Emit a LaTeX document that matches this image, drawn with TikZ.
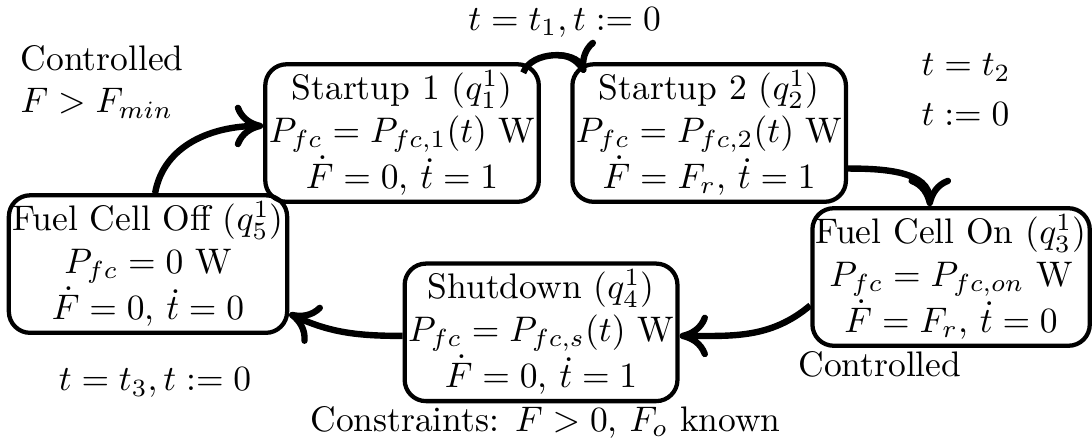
\documentclass[tikz,border=0pt]{standalone}
\usepackage{amsmath,amssymb}
\usepackage{tikz}
\usetikzlibrary{arrows.meta}

\begin{document}
\begin{tikzpicture}[
  state/.style={draw, very thick, rounded corners=6pt, align=center,
                inner xsep=1pt, inner ysep=1.8pt},
  ar/.style={-{To[length=8pt,width=12pt]}, line width=1.8pt}]
\useasboundingbox (0,0) rectangle (10.81,-4.336);
\node[state] (off) at (1.465,-2.614) {Fuel Cell Off ($q_5^1$)\\ $P_{fc}=0$ W\\ $\dot{F}=0$, $\dot{t}=0$};
\node[state] (s1)  at (3.98,-1.317)  {Startup 1 ($q_1^1$)\\ $P_{fc}=P_{fc,1}(t)$ W\\ $\dot{F}=0$, $\dot{t}=1$};
\node[state] (s2)  at (7.02,-1.317)  {Startup 2 ($q_2^1$)\\ $P_{fc}=P_{fc,2}(t)$ W\\ $\dot{F}=F_r$, $\dot{t}=1$};
\node[state] (on)  at (9.415,-2.742) {Fuel Cell On ($q_3^1$)\\ $P_{fc}=P_{fc,on}$ W\\ $\dot{F}=F_r$, $\dot{t}=0$};
\node[state] (sd)  at (5.356,-3.29)  {Shutdown ($q_4^1$)\\ $P_{fc}=P_{fc,s}(t)$ W\\ $\dot{F}=0$, $\dot{t}=1$};
% guards and resets
\node (g1) at (5.59,-0.218) {$t=t_1, t:=0$};
\node[anchor=west, align=left] (g0) at (0.08,-0.81) {Controlled\\ $F>F_{min}$};
\node[anchor=west, align=left] (g2) at (9.0,-0.89) {$t=t_2$\\[2pt] $t:=0$};
\node (g3) at (8.71,-3.61) {Controlled};
\node (g4) at (1.535,-3.79) {$t=t_3, t:=0$};
\node (cons) at (5.40,-4.18) {Constraints: $F>0$, $F_o$ known};
\draw[ar] ([xshift=2pt]off.north) to[out=80,in=180] ([yshift=2pt]s1.west);
\draw[ar] ([xshift=-5pt,yshift=-3pt]s1.north east) to[out=70,in=110] ([xshift=4pt,yshift=-3pt]s2.north west);
\draw[ar] ([yshift=-10pt]s2.east) to[out=0,in=90] ([xshift=-6pt]on.north);
\draw[ar] ([yshift=-8pt]on.west) to[out=220,in=0] ([yshift=-1pt]sd.east);
\draw[ar] ([yshift=-1pt]sd.west) to[out=180,in=-25] ([yshift=6pt]off.south east);
\end{tikzpicture}
\end{document}
